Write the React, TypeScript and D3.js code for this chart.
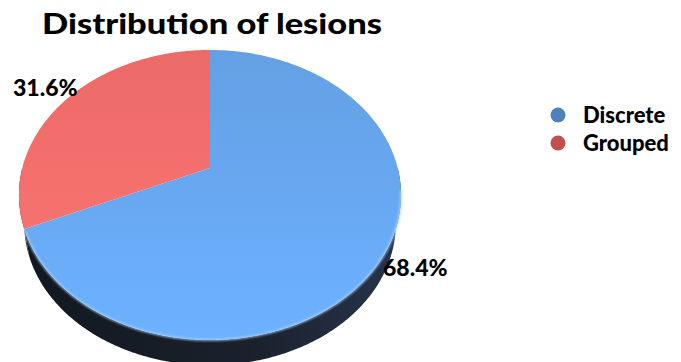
import React from "react";
import * as d3 from "d3";

const categories = ["Discrete", "Grouped"];
const values = [68.4, 31.6];
const labels = ["68.4%", "31.6%"];
const legendColors = ["#4F81BD", "#C0504D"];

const W = 681;
const H = 362;
const CX = 210;
const CY0 = 168; // projected pie centre
const A = 187.7;
const B = 140;
const K = -0.186;
const DEPTH = 30;
const BOT_SCALE = 0.972;

function proj(a: number, bottom = false): [number, number] {
  const u = Math.sin(a);
  const v = -Math.cos(a);
  const den = 1 + K * v;
  const x = (A * u) / den;
  const y = (B * v) / den;
  if (!bottom) return [CX + x, CY0 + y];
  return [CX + BOT_SCALE * x, CY0 + DEPTH + BOT_SCALE * y];
}

function arcPts(a0: number, a1: number, bottom = false): [number, number][] {
  const n = Math.max(2, Math.ceil(Math.abs(a1 - a0) / 0.01));
  return d3.range(n + 1).map((i) => proj(a0 + ((a1 - a0) * i) / n, bottom));
}

export default function App() {
  const pie = d3.pie<number>().sort(null).value((d) => d);
  const arcs = pie(values);
  const line = d3.line();

  const frontStart = Math.PI / 2;
  const frontEnd = (3 * Math.PI) / 2;

  const topFill = ["url(#gBlue)", "url(#gRed)"];
  const sideFill = ["url(#gSide)", "#3a1818"];

  const sides = arcs
    .map((s, i) => {
      const a0 = Math.max(s.startAngle, frontStart);
      const a1 = Math.min(s.endAngle, frontEnd);
      if (a1 <= a0) return null;
      const top = arcPts(a0, a1, false);
      const bot = arcPts(a1, a0, true);
      return { d: line([...top, ...bot])! + "Z", fill: sideFill[i] };
    })
    .filter(Boolean) as { d: string; fill: string }[];

  const tops = arcs.map((s, i) => {
    const pts = [[CX, CY0] as [number, number], ...arcPts(s.startAngle, s.endAngle)];
    return { d: line(pts)! + "Z", fill: topFill[i] };
  });

  const rimPts = arcPts(frontStart + 0.15, arcs[0].endAngle - 0.02);

  const font = "Lato, 'Open Sans', sans-serif";

  return (
    <svg width={W} height={H} style={{ position: "absolute", left: 0, top: 0 }}>
      <defs>
        <linearGradient id="gBlue" x1="0" y1="0" x2="0" y2="1">
          <stop offset="0" stopColor="#64a0e3" />
          <stop offset="0.5" stopColor="#68a8f2" />
          <stop offset="1" stopColor="#6db2ff" />
        </linearGradient>
        <linearGradient id="gRed" x1="0" y1="0" x2="0" y2="1">
          <stop offset="0" stopColor="#ec6a68" />
          <stop offset="1" stopColor="#f6726f" />
        </linearGradient>
        <linearGradient id="gSide" x1="0" y1="0" x2="1" y2="0">
          <stop offset="0" stopColor="#121820" />
          <stop offset="0.6" stopColor="#1a212c" />
          <stop offset="1" stopColor="#27344c" />
        </linearGradient>
        <filter id="blur1">
          <feGaussianBlur stdDeviation="0.9" />
        </filter>
      </defs>
      <rect width={W} height={H} fill="#ffffff" />
      <text
        x={212}
        y={34}
        textAnchor="middle"
        fontFamily={font}
        fontWeight={900}
        fontSize={29}
        fill="#000"
        textLength={340}
        lengthAdjust="spacingAndGlyphs"
      >
        Distribution of lesions
      </text>
      {sides.map((s, i) => (
        <path key={"s" + i} d={s.d} fill={s.fill} />
      ))}
      {tops.map((t, i) => (
        <path key={"t" + i} d={t.d} fill={t.fill} />
      ))}
      <path
        d={line(rimPts)!}
        fill="none"
        stroke="#a8d4ff"
        strokeWidth={2}
        filter="url(#blur1)"
        opacity={0.85}
      />
      <text x={13} y={96} fontFamily={font} fontWeight={900} fontSize={23} fill="#000">
        {labels[1]}
      </text>
      <text x={383} y={276} fontFamily={font} fontWeight={900} fontSize={23} fill="#000">
        {labels[0]}
      </text>
      {categories.map((c, i) => (
        <g key={c}>
          <circle cx={558} cy={115 + i * 28} r={7.5} fill={legendColors[i]} />
          <text
            x={583}
            y={123 + i * 28}
            fontFamily={font}
            fontWeight={900}
            fontSize={22}
            fill="#000"
          >
            {c}
          </text>
        </g>
      ))}
    </svg>
  );
}
